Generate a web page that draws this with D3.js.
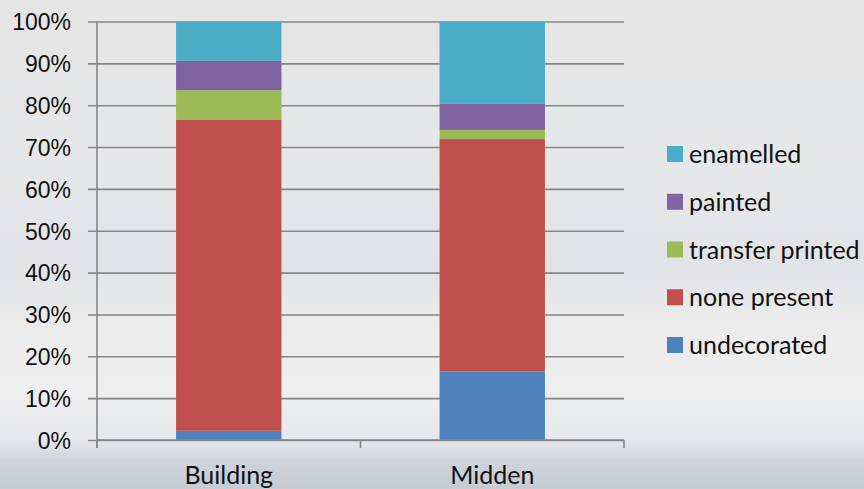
<!DOCTYPE html>
<html>
<head>
<meta charset="utf-8">
<script src="https://cdn.jsdelivr.net/npm/d3@7"></script>
<style>
  html, body { margin: 0; padding: 0; }
  svg { display: block; font-family: Lato, "Open Sans", sans-serif; }
</style>
</head>
<body>
<svg id="chart" width="864" height="489"></svg>
<script>
const categories = ["Building", "Midden"];
const seriesNames = ["undecorated", "none present", "transfer printed", "painted", "enamelled"];
const undecorated = [2.2, 16.4];
const nonePresent = [74.4, 55.5];
const transferPrinted = [7.0, 2.2];
const painted = [7.0, 6.2];
const enamelled = [9.4, 19.7];
const yTicks = [0, 10, 20, 30, 40, 50, 60, 70, 80, 90, 100];

const colors = {
  "undecorated": "#4f81bd",
  "none present": "#c0504d",
  "transfer printed": "#9bbb59",
  "painted": "#8064a2",
  "enamelled": "#4bacc6",
};

const width = 864;
const height = 489;
const marginLeft = 97;
const marginTop = 21.5;
const plotRight = 624;
const plotBottom = 440;

const svg = d3.select("#chart");

// background, a rough stand-in for the snow photo
const defs = svg.append("defs");
const grad = defs.append("linearGradient")
  .attr("id", "bg").attr("x1", 0).attr("y1", 0).attr("x2", 0).attr("y2", 1);
[
  [0, "#e5e5e5"], [0.35, "#e6e7e9"], [0.55, "#e1e3e7"], [0.65, "#ebebeb"],
  [0.8, "#eeeeee"], [0.9, "#e6e8eb"], [0.94, "#cfd4db"], [1, "#c6ccd4"],
].forEach(([o, c]) => grad.append("stop").attr("offset", o).attr("stop-color", c));
svg.append("rect").attr("width", width).attr("height", height).attr("fill", "url(#bg)");

const rows = categories.map((c, i) => ({
  category: c,
  "undecorated": undecorated[i],
  "none present": nonePresent[i],
  "transfer printed": transferPrinted[i],
  "painted": painted[i],
  "enamelled": enamelled[i],
}));
const stacked = d3.stack().keys(seriesNames).offset(d3.stackOffsetExpand)(rows);

const xScale = d3.scaleBand()
  .domain(categories)
  .range([marginLeft, plotRight])
  .paddingInner(0.6)
  .paddingOuter(0.3);
const yScale = d3.scaleLinear().domain([0, 100]).range([plotBottom, marginTop]);

// gridlines + y labels
const yAxis = d3.axisLeft(yScale)
  .tickValues(yTicks)
  .tickFormat((d) => d + "%")
  .tickSize(-(plotRight - marginLeft + 9))
  .tickPadding(17);
const yg = svg.append("g")
  .attr("class", "y-axis")
  .attr("transform", `translate(${marginLeft - 9}, 0)`)
  .call(yAxis);
yg.select(".domain").remove();
yg.selectAll("line").attr("stroke", "#868686").attr("stroke-width", 1.6);
yg.selectAll("text")
  .attr("fill", "#111")
  .attr("font-size", "23px")
  .attr("dy", "0.36em");

// bars
svg.append("g")
  .selectAll("g")
  .data(stacked)
  .join("g")
  .attr("fill", (s) => colors[s.key])
  .selectAll("rect")
  .data((s) => s)
  .join("rect")
  .attr("x", (d) => xScale(d.data.category))
  .attr("width", xScale.bandwidth())
  .attr("y", (d) => yScale(d[1] * 100))
  .attr("height", (d) => yScale(d[0] * 100) - yScale(d[1] * 100));

// vertical axis line
svg.append("line")
  .attr("x1", marginLeft).attr("x2", marginLeft)
  .attr("y1", marginTop).attr("y2", plotBottom + 8)
  .attr("stroke", "#868686").attr("stroke-width", 1.6);

// x axis with ticks between categories
const xTickPos = [marginLeft, marginLeft + (plotRight - marginLeft) / 2, plotRight];
svg.append("line")
  .attr("x1", marginLeft).attr("x2", plotRight)
  .attr("y1", plotBottom).attr("y2", plotBottom)
  .attr("stroke", "#868686").attr("stroke-width", 1.6);
svg.append("g")
  .selectAll("line")
  .data(xTickPos)
  .join("line")
  .attr("x1", (d) => d).attr("x2", (d) => d)
  .attr("y1", plotBottom).attr("y2", plotBottom + 8)
  .attr("stroke", "#868686").attr("stroke-width", 1.6);

svg.append("g")
  .selectAll("text")
  .data(categories)
  .join("text")
  .attr("x", (d) => xScale(d) + xScale.bandwidth() / 2)
  .attr("y", 484)
  .attr("text-anchor", "middle")
  .attr("font-size", "25px")
  .attr("fill", "#111")
  .text((d) => d);

// legend, top entry is the top of the stack
const legendItems = seriesNames.slice().reverse();
const legendY = d3.scalePoint().domain(legendItems).range([154, 345]);
const legend = svg.append("g")
  .selectAll("g")
  .data(legendItems)
  .join("g")
  .attr("transform", (d) => `translate(667, ${legendY(d)})`);
legend.append("rect")
  .attr("x", 0).attr("y", -8)
  .attr("width", 16).attr("height", 16)
  .attr("fill", (d) => colors[d]);
legend.append("text")
  .attr("x", 22).attr("y", 0)
  .attr("dy", "0.36em")
  .attr("font-size", "25px")
  .attr("fill", "#111")
  .text((d) => d);
</script>
</body>
</html>
